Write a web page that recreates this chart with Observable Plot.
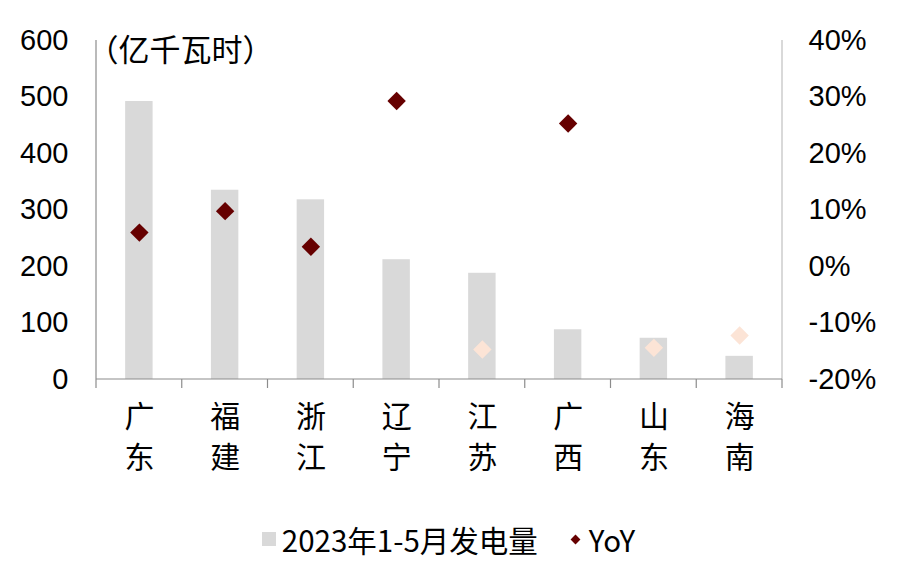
<!DOCTYPE html>
<html><head><meta charset="utf-8">
<script src="https://cdn.jsdelivr.net/npm/d3@7"></script>
<script src="https://cdn.jsdelivr.net/npm/@observablehq/plot@0.6"></script>
<style>
body{margin:0;background:#fff;font-family:"Liberation Sans","Noto Sans CJK SC",sans-serif;}
#chart svg{display:block;}
#legend{display:flex;justify-content:center;align-items:center;height:62px;padding-top:16px;box-sizing:border-box;font-size:29.5px;color:#000;font-family:"Noto Sans CJK SC","Liberation Sans",sans-serif;}
#legend .sw{display:inline-block;width:14px;height:14px;background:#d9d9d9;margin-right:6px;}
#legend .dia{display:inline-block;width:7px;height:7px;background:#660000;transform:rotate(45deg);margin-left:34px;margin-right:10px;}
</style></head><body>
<div id="chart"></div>
<div id="legend"></div>
<script>
const provinces = ["广东","福建","浙江","辽宁","江苏","广西","山东","海南"];
const generation = [492, 335, 318, 212, 188, 88, 73, 41];
const yoy = [6.0, 9.8, 3.5, 29.3, -14.7, 25.3, -14.4, -12.2];
const leftTicks = [0, 100, 200, 300, 400, 500, 600];
const rightTicks = [-20, -10, 0, 10, 20, 30, 40];
const unitLabel = "（亿千瓦时）";
const seriesNames = ["2023年1-5月发电量", "YoY"];

const leftMin = leftTicks[0], leftMax = leftTicks[leftTicks.length - 1];
const rMin = rightTicks[0], rMax = rightTicks[rightTicks.length - 1];
const toLeft = v => leftMin + (v - rMin) * (leftMax - leftMin) / (rMax - rMin);
const toRight = v => Math.round(rMin + (v - leftMin) * (rMax - rMin) / (leftMax - leftMin));

const data = provinces.map((p, i) => ({province: p, gen: generation[i], yoy: yoy[i]}));
const PAD = 0.68;

function axisLines(index, scales) {
  const x = scales.x, y = scales.y;
  const ns = "http://www.w3.org/2000/svg";
  const g = document.createElementNS(ns, "g");
  const step = x(provinces[1]) - x(provinces[0]);
  const half = step * PAD / 2;
  const bounds = provinces.map(p => x(p) - half);
  bounds.push(x(provinces[provinces.length - 1]) + step - half);
  const y0 = y(leftMin), yTop = y(leftMax);
  const line = (x1, y1, x2, y2, stroke) => {
    const l = document.createElementNS(ns, "line");
    l.setAttribute("x1", x1); l.setAttribute("y1", y1);
    l.setAttribute("x2", x2); l.setAttribute("y2", y2);
    l.setAttribute("stroke", stroke); l.setAttribute("stroke-width", 1.2);
    g.appendChild(l);
  };
  line(bounds[0], yTop, bounds[0], y0, "#8c8c8c");
  line(bounds[bounds.length - 1], yTop, bounds[bounds.length - 1], y0, "#c0c0c0");
  line(bounds[0], y0, bounds[bounds.length - 1], y0, "#8c8c8c");
  bounds.forEach(b => line(b, y0, b, y0 + 9, "#8c8c8c"));
  return g;
}

const chart = Plot.plot({
  width: 897,
  height: 500,
  marginLeft: 96,
  marginRight: 115,
  marginTop: 40,
  marginBottom: 121,
  style: {fontFamily: '"Liberation Sans","Noto Sans CJK SC",sans-serif', fontSize: "29px", color: "#000", background: "#fff"},
  x: {domain: provinces, paddingInner: PAD, paddingOuter: PAD / 2, round: false, label: null},
  y: {domain: [leftMin, leftMax], nice: false, label: null},
  marks: [
    Plot.barY(data, {x: "province", y: "gen", fill: "#d9d9d9"}),
    Plot.dot(data.filter(d => d.yoy >= 0), {x: "province", y: d => toLeft(d.yoy), symbol: "diamond2", r: 8.3, fill: "#660000"}),
    Plot.dot(data.filter(d => d.yoy < 0), {x: "province", y: d => toLeft(d.yoy), symbol: "diamond2", r: 8.3, fill: "#fce4d6"}),
    axisLines,
    Plot.axisY({ticks: leftTicks, tickSize: 0, tickPadding: 28, fontSize: 29, label: null}),
    Plot.axisY({anchor: "right", ticks: rightTicks.map(toLeft), tickFormat: v => `${toRight(v)}%`, tickSize: 0, tickPadding: 26, fontSize: 29, label: null}),
    Plot.axisX({tickSize: 0, tickPadding: 18, fontSize: 30, lineHeight: 1.37, tickFormat: d => d.split("").join("\n"), label: null}),
    Plot.text([unitLabel], {text: d => d, frameAnchor: "top-left", textAnchor: "start", lineAnchor: "middle", dy: 11, dx: -9, fontSize: 31, fill: "#000"})
  ]
});
document.getElementById("chart").appendChild(chart);

const legend = document.getElementById("legend");
legend.innerHTML = `<span class="sw"></span><span>${seriesNames[0]}</span><span class="dia"></span><span>${seriesNames[1]}</span>`;
</script>
</body></html>
